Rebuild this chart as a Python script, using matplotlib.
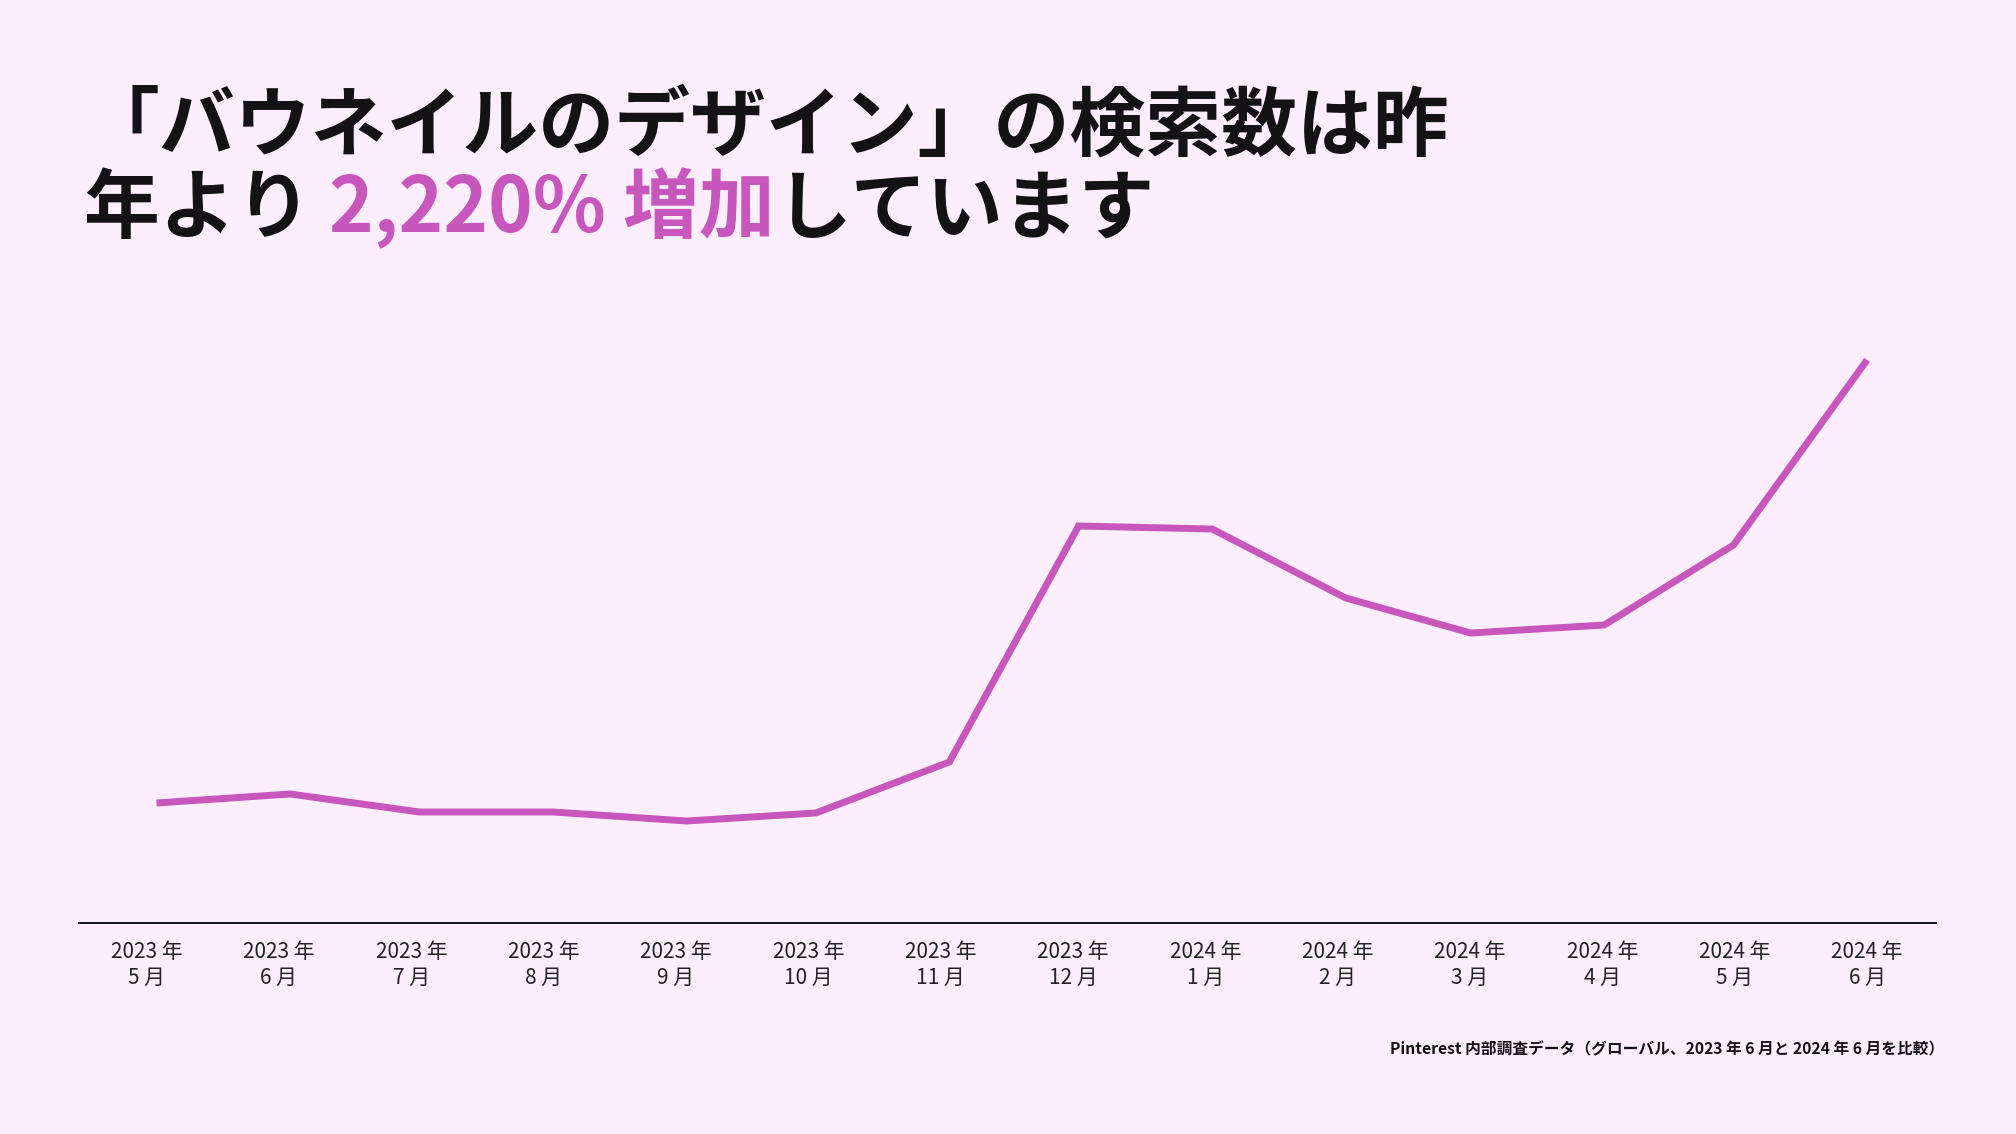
import matplotlib
matplotlib.use("Agg")
import matplotlib.pyplot as plt
import matplotlib.dates as mdates
import numpy as np
import datetime as dt

plt.rcParams['font.family'] = ['Noto Sans CJK JP', 'DejaVu Sans']

# ---- data ----
months = ["2023-05", "2023-06", "2023-07", "2023-08", "2023-09", "2023-10", "2023-11",
          "2023-12", "2024-01", "2024-02", "2024-03", "2024-04", "2024-05", "2024-06"]
tick_labels = ["2023 年\n5 月", "2023 年\n6 月", "2023 年\n7 月", "2023 年\n8 月",
               "2023 年\n9 月", "2023 年\n10 月", "2023 年\n11 月", "2023 年\n12 月",
               "2024 年\n1 月", "2024 年\n2 月", "2024 年\n3 月", "2024 年\n4 月",
               "2024 年\n5 月", "2024 年\n6 月"]
search_index = [120, 129, 111, 111, 102, 110, 161, 397, 394, 325, 290, 298, 378, 563]

title_line1 = "「バウネイルのデザイン」の検索数は昨"
title_line2_parts = ["年より ", "2,220% 増加", "しています"]
footnote = "Pinterest 内部調査データ（グローバル、2023 年 6 月と 2024 年 6 月を比較）"

BG = "#fdeefd"
PINK = "#c857bd"
DARK = "#141214"

W, H = 2016, 1134
fig = plt.figure(figsize=(W / 100, H / 100), dpi=100, facecolor=BG)

dates = [dt.datetime.strptime(m + "-01", "%Y-%m-%d") for m in months]

ax_left, ax_right = 79 / W, 1936 / W
ax_bottom = 1 - 923 / H
ax_height = 600 / H
ax = fig.add_axes([ax_left, ax_bottom, ax_right - ax_left, ax_height])
ax.set_facecolor(BG)
ax.plot(dates, search_index, color=PINK, lw=5.0, solid_joinstyle='miter',
        solid_capstyle='butt')
ax.set_ylim(0, 600)
ax.set_xlim(dates[0] - dt.timedelta(days=18), dates[-1] + dt.timedelta(days=16))
for s in ["top", "right", "left"]:
    ax.spines[s].set_visible(False)
ax.spines["bottom"].set_color(DARK)
ax.spines["bottom"].set_linewidth(1.4)
ax.set_yticks([])
# category labels are evenly spaced along the axis
d0 = mdates.date2num(dates[0]) - 2.3
d1 = mdates.date2num(dates[-1])
ax.set_xticks(np.linspace(d0, d1, len(tick_labels)))
ax.set_xticklabels(tick_labels, fontsize=15, color="#222222", linespacing=1.2)
ax.tick_params(axis='x', length=0, pad=13)

# ---- title ----
fig.text(84 / W, 1 - 150 / H, title_line1, fontsize=54.6, fontweight='bold',
         color=DARK, ha='left', va='baseline')

fig.canvas.draw()
renderer = fig.canvas.get_renderer()
x = 84
colors = [DARK, PINK, DARK]
for part, c in zip(title_line2_parts, colors):
    t = fig.text(x / W, 1 - 232 / H, part, fontsize=54.6, fontweight='bold',
                 color=c, ha='left', va='baseline')
    bb = t.get_window_extent(renderer=renderer)
    x = bb.x1

# ---- footnote ----
fig.text(1944 / W, 1 - 1054 / H, footnote, fontsize=11.3, fontweight='bold',
         color=DARK, ha='right', va='baseline')

fig.savefig("out.png", dpi=100, facecolor=BG)
